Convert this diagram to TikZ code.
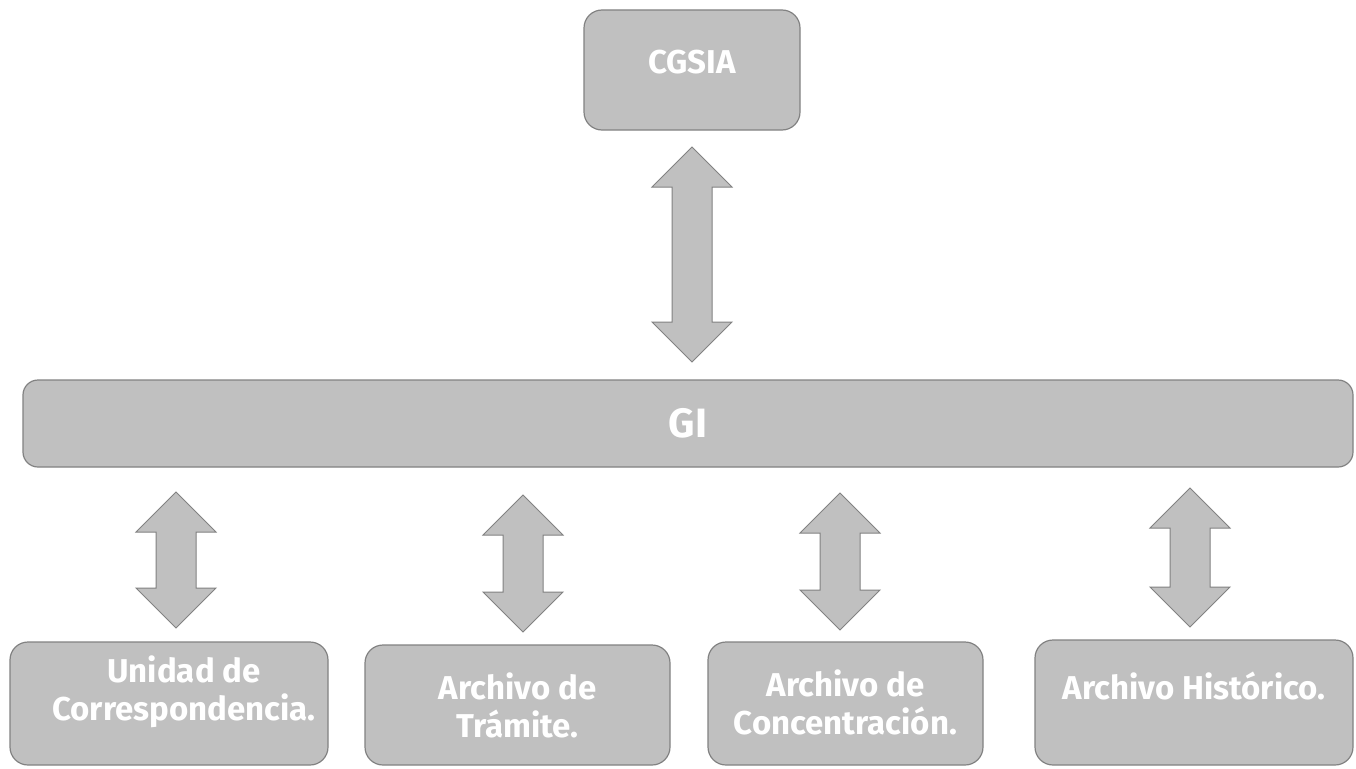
\documentclass[tikz,border=0pt]{standalone}
\usepackage{fontspec}
\setmainfont{Fira Sans}
\usetikzlibrary{calc}
\definecolor{boxfill}{RGB}{192,192,192}
\definecolor{boxline}{RGB}{130,130,130}
\newcommand\dblarrow[2]{%
  \draw[barrow] let \p1=(#1), \p2=(#2) in
    (\p1) -- (\x1+40pt,\y1-40pt) -- (\x1+20pt,\y1-40pt) -- (\x1+20pt,\y2+40pt)
    -- (\x1+40pt,\y2+40pt) -- (\p2) -- (\x1-40pt,\y2+40pt) -- (\x1-20pt,\y2+40pt)
    -- (\x1-20pt,\y1-40pt) -- (\x1-40pt,\y1-40pt) -- cycle;}
\begin{document}
\begin{tikzpicture}[x=1pt,y=-1pt,
  box/.style={draw=boxline, fill=boxfill, line width=1.2pt, rounded corners=18pt,
    text=white, font=\bfseries\fontsize{33}{38}\selectfont, align=center, inner sep=0pt},
  barrow/.style={draw=boxline, fill=boxfill, line width=1pt, line join=miter}]
\useasboundingbox[fill=white] (0,0) rectangle (1356,768);
\node[box, minimum width=216pt, minimum height=120pt, text depth=16pt] (cgsia) at (692,70) {CGSIA};
\node[box, minimum width=1330pt, minimum height=87pt, rounded corners=15pt,
  font=\bfseries\fontsize{41}{48}\selectfont] (gi) at (688,423.5) {GI};
\node[box, minimum width=318pt, minimum height=123pt, text depth=31pt] (u1) at (169,703.5)
  {\hspace*{30pt}Unidad de\\\hspace*{30pt}Correspondencia.};
\node[box, minimum width=305pt, minimum height=120pt] (u2) at (517.5,705) {Archivo de\\Trámite.};
\node[box, minimum width=275pt, minimum height=123pt, text depth=3pt] (u3) at (845.5,703.5) {Archivo de\\Concentración.};
\node[box, minimum width=318pt, minimum height=125pt, text depth=34pt] (u4) at (1194,702.5) {Archivo Histórico.};
\coordinate (t0) at (692,147);  \coordinate (b0) at (692,362);
\coordinate (t1) at (176,492);  \coordinate (b1) at (176,628);
\coordinate (t2) at (523,495);  \coordinate (b2) at (523,632);
\coordinate (t3) at (840,493);  \coordinate (b3) at (840,630);
\coordinate (t4) at (1190,488); \coordinate (b4) at (1190,627);
\dblarrow{t0}{b0}
\dblarrow{t1}{b1}
\dblarrow{t2}{b2}
\dblarrow{t3}{b3}
\dblarrow{t4}{b4}
\end{tikzpicture}
\end{document}
